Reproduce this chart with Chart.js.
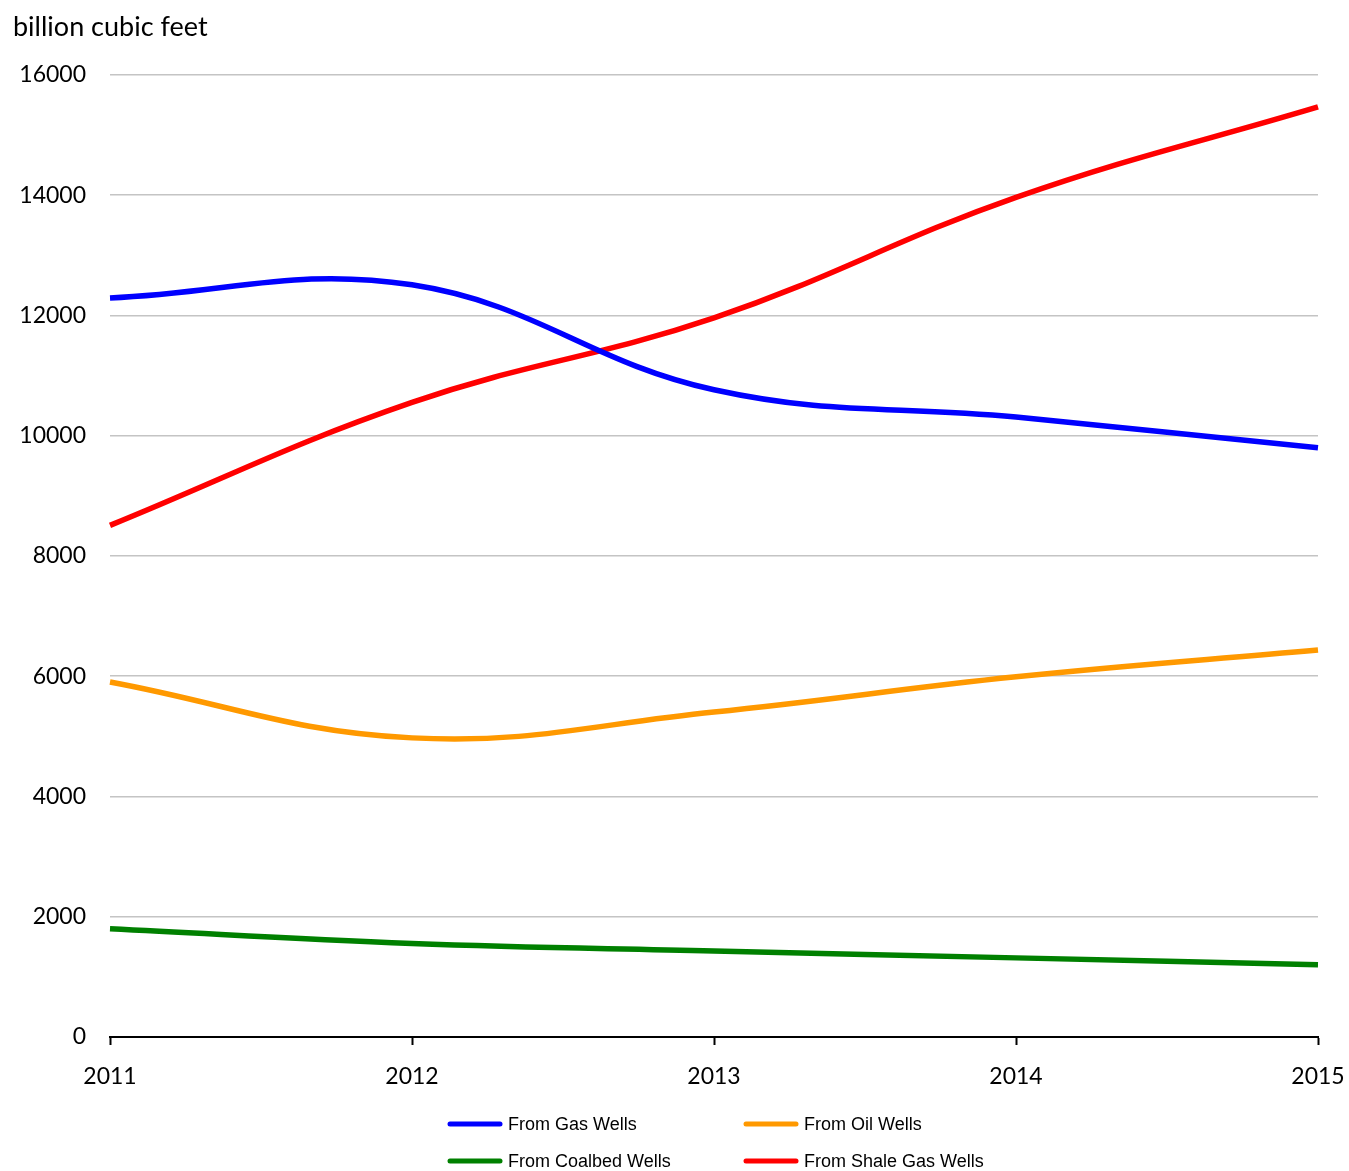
<!DOCTYPE html>
<html>
<head>
<meta charset="utf-8">
<script src="https://cdn.jsdelivr.net/npm/chart.js@4.4.1/dist/chart.umd.min.js"></script>
<style>
  html, body { margin: 0; padding: 0; background: #ffffff; }
  #wrap { position: relative; width: 1349px; height: 1171px; }
</style>
</head>
<body>
<div id="wrap"><canvas id="c" width="1349" height="1171"></canvas></div>
<script>
const years = ['2011', '2012', '2013', '2014', '2015'];
const gasWells = [12291, 12510, 10765, 10310, 9800];
const oilWells = [5905, 4975, 5405, 5990, 6435];
const coalbedWells = [1800, 1555, 1432, 1316, 1200];
const shaleGasWells = [8510, 10555, 11960, 13965, 15470];
const yTicks = [0, 2000, 4000, 6000, 8000, 10000, 12000, 14000, 16000];
const unitLabel = 'billion cubic feet';

const seriesNames = ['From Gas Wells', 'From Oil Wells', 'From Coalbed Wells', 'From Shale Gas Wells'];
const seriesColors = ['#0000FF', '#FF9900', '#008000', '#FF0000'];
const seriesData = [gasWells, oilWells, coalbedWells, shaleGasWells];

const axisFont = { family: 'Lato, "Open Sans", sans-serif', size: 23 };

const extras = {
  id: 'extras',
  afterDraw(chart) {
    const ctx = chart.ctx;
    ctx.save();
    ctx.fillStyle = '#000';
    ctx.font = '27px Lato, "Open Sans", sans-serif';
    ctx.textAlign = 'left';
    ctx.textBaseline = 'middle';
    ctx.fillText(unitLabel, 13, 27);
    const cols = [448, 744];
    const rows = [1124, 1161];
    ctx.font = '18px "Liberation Sans", Arial, sans-serif';
    chart.data.datasets.forEach((ds, i) => {
      const x = cols[i % 2];
      const y = rows[Math.floor(i / 2)];
      ctx.strokeStyle = ds.borderColor;
      ctx.lineWidth = 5;
      ctx.lineCap = 'round';
      ctx.beginPath();
      ctx.moveTo(x + 2, y);
      ctx.lineTo(x + 52, y);
      ctx.stroke();
      ctx.fillStyle = '#000';
      ctx.textAlign = 'left';
      ctx.textBaseline = 'middle';
      ctx.fillText(ds.label, x + 60, y + 1);
    });
    ctx.restore();
  }
};

new Chart(document.getElementById('c'), {
  type: 'line',
  data: {
    labels: years,
    datasets: seriesNames.map((n, i) => ({
      label: n,
      data: seriesData[i],
      borderColor: seriesColors[i],
      backgroundColor: seriesColors[i],
      borderWidth: 5.5,
      pointRadius: 0,
      tension: 0.4,
      fill: false
    }))
  },
  options: {
    responsive: false,
    animation: false,
    devicePixelRatio: 1,
    layout: { padding: { top: 75, right: 0, left: 0, bottom: 0 } },
    plugins: { legend: { display: false }, tooltip: { enabled: false } },
    scales: {
      x: {
        offset: false,
        grid: { drawOnChartArea: false, drawTicks: true, tickLength: 8, tickColor: '#000', tickWidth: 2 },
        border: { display: true, color: '#000', width: 2 },
        ticks: { color: '#000', font: axisFont, padding: 18, maxRotation: 0, autoSkip: false },
        afterFit(scale) { scale.height = 134; scale.paddingLeft = 0; scale.paddingRight = 31; }
      },
      y: {
        min: 0,
        max: 16000,
        afterBuildTicks(scale) { scale.ticks = yTicks.map(v => ({ value: v })); },
        grid: { color: '#c4c4c4', lineWidth: 1.6, drawTicks: false },
        border: { display: false },
        ticks: { color: '#000', font: axisFont, padding: 24, callback: (v) => String(v) },
        afterFit(scale) { scale.width = 110; }
      }
    }
  },
  plugins: [extras]
});
</script>
</body>
</html>
